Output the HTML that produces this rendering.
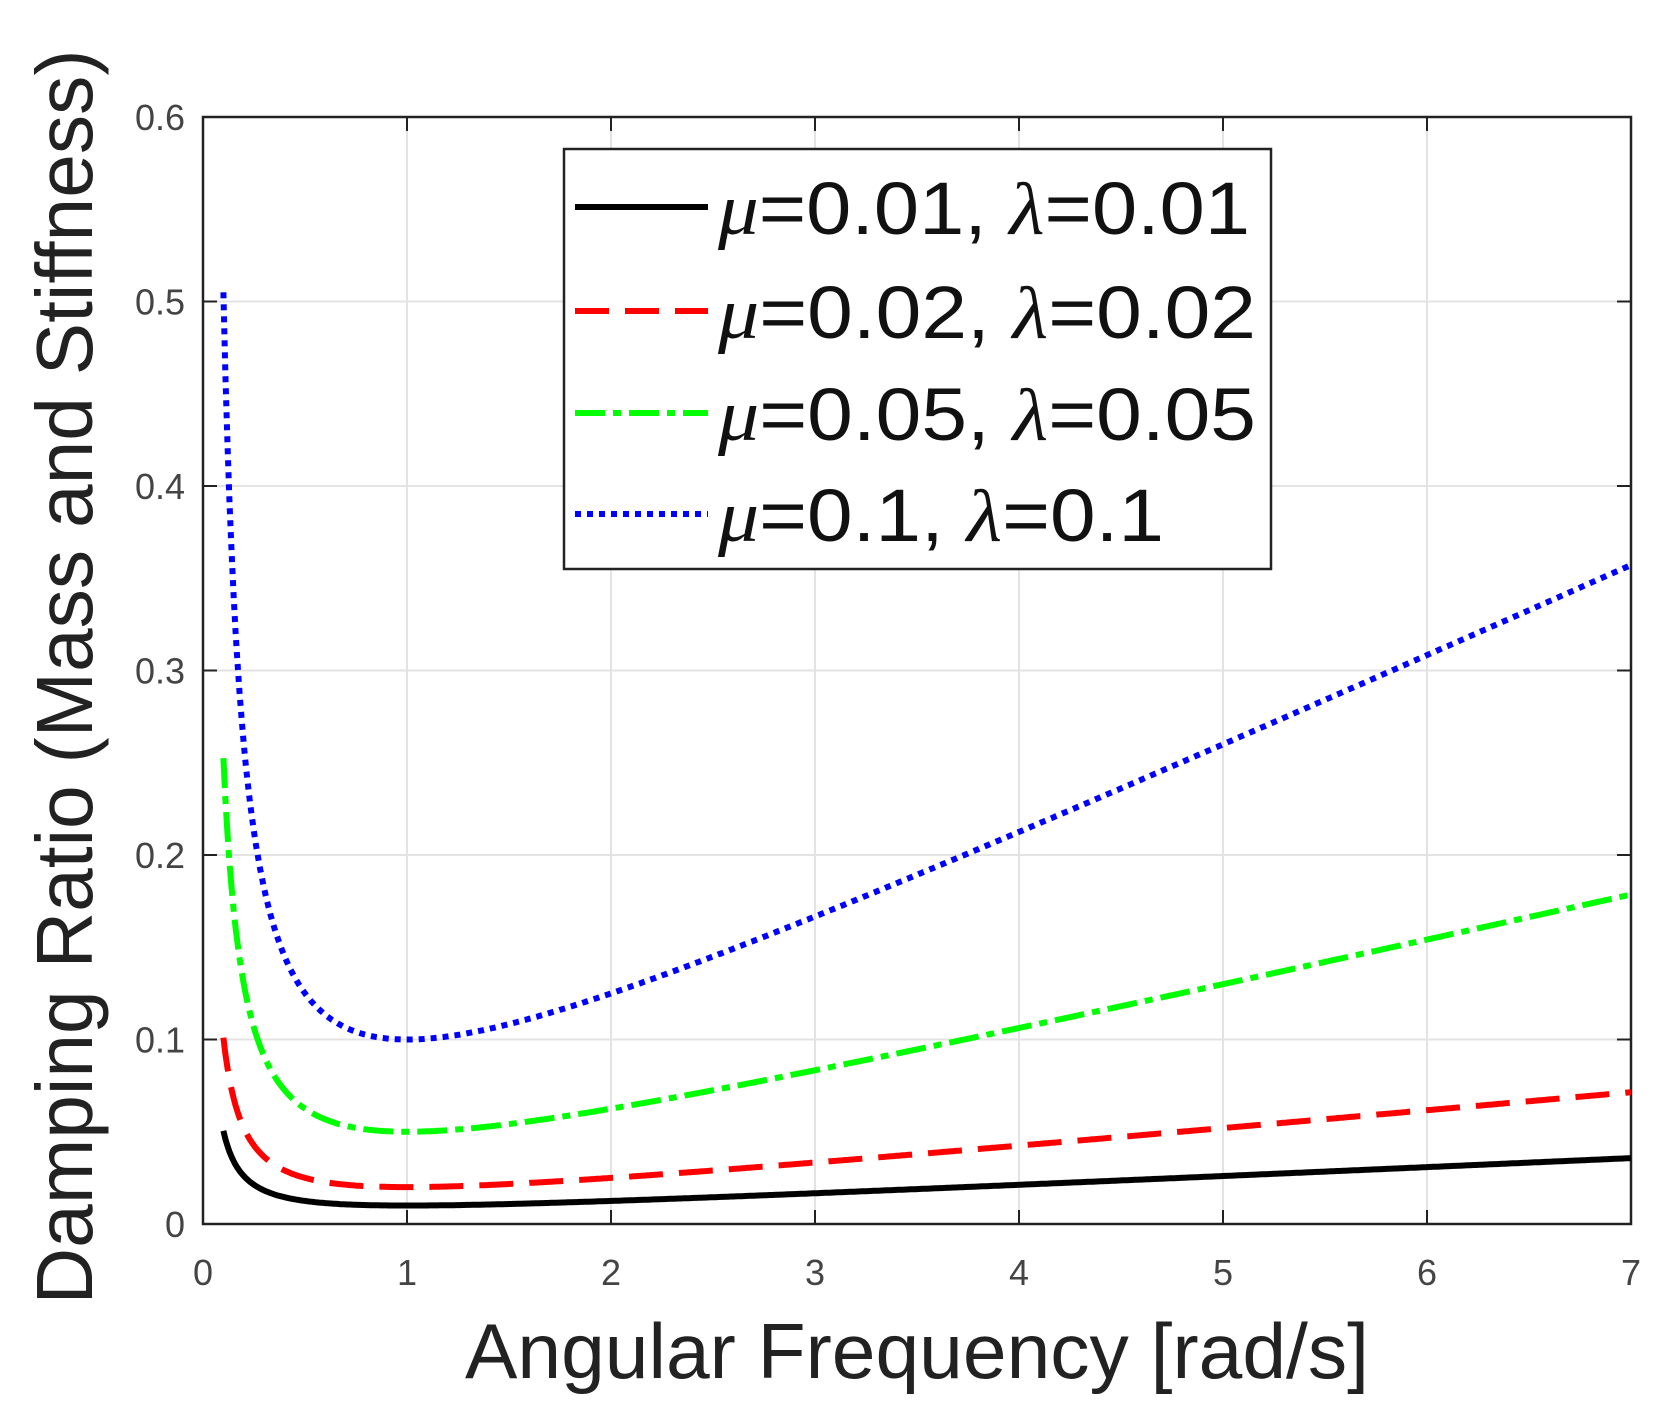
<!DOCTYPE html>
<html><head><meta charset="utf-8"><style>
html,body{margin:0;padding:0;background:#fff;}
svg{display:block;font-family:"Liberation Sans",sans-serif;}
</style></head><body>
<svg id="s" width="1660" height="1415" viewBox="0 0 1660 1415" xmlns="http://www.w3.org/2000/svg">
<rect width="1660" height="1415" fill="#fff"/>
<g id="grid" stroke="#e3e3e3" stroke-width="2"></g>
<rect x="203" y="117" width="1428" height="1107" fill="none" stroke="#222" stroke-width="2.5"/>
<g id="ticks" stroke="#222" stroke-width="2"></g>
<g id="labels" fill="#444" font-size="36"></g>
<g id="curves" fill="none"></g>
<rect x="564" y="149" width="707" height="420" fill="#fff" stroke="#222" stroke-width="2.5"/>
<line x1="575" y1="207" x2="708" y2="207" stroke="#000" stroke-width="6"/>
<line x1="575" y1="311" x2="708" y2="311" stroke="#f00" stroke-width="6" stroke-dasharray="34,16"/>
<line x1="575" y1="413" x2="708" y2="413" stroke="#0f0" stroke-width="6" stroke-dasharray="30,8,8,8"/>
<line x1="575" y1="514" x2="708" y2="514" stroke="#00f" stroke-width="6" stroke-dasharray="6,6"/>
<g font-size="74" fill="#111">
<text x="718" y="234" textLength="532" lengthAdjust="spacingAndGlyphs"><tspan font-style="italic" font-family="Liberation Serif">μ</tspan>=0.01, <tspan font-family="Liberation Serif" font-style="italic">λ</tspan>=0.01</text>
<text x="718" y="338" textLength="538" lengthAdjust="spacingAndGlyphs"><tspan font-style="italic" font-family="Liberation Serif">μ</tspan>=0.02, <tspan font-family="Liberation Serif" font-style="italic">λ</tspan>=0.02</text>
<text x="718" y="440" textLength="538" lengthAdjust="spacingAndGlyphs"><tspan font-style="italic" font-family="Liberation Serif">μ</tspan>=0.05, <tspan font-family="Liberation Serif" font-style="italic">λ</tspan>=0.05</text>
<text x="718" y="541" textLength="446" lengthAdjust="spacingAndGlyphs"><tspan font-style="italic" font-family="Liberation Serif">μ</tspan>=0.1, <tspan font-family="Liberation Serif" font-style="italic">λ</tspan>=0.1</text>
</g>
<text x="917" y="1378" font-size="78" fill="#222" text-anchor="middle" textLength="904" lengthAdjust="spacingAndGlyphs">Angular Frequency [rad/s]</text>
<text transform="translate(92,677) rotate(-90)" font-size="80" fill="#222" text-anchor="middle" textLength="1255" lengthAdjust="spacingAndGlyphs">Damping Ratio (Mass and Stiffness)</text>
</svg>
<script>
var L=203,R=1631,T=117,B=1224,NS="http://www.w3.org/2000/svg";
function X(v){return L+(R-L)*v/7}function Y(v){return B-(B-T)*v/0.6}
function el(p,t,a,txt){var e=document.createElementNS(NS,t);for(var k in a)e.setAttribute(k,a[k]);if(txt!=null)e.textContent=txt;document.getElementById(p).appendChild(e);}
for(var i=1;i<7;i++){el('grid','line',{x1:X(i),x2:X(i),y1:T,y2:B});}
for(var j=1;j<6;j++){el('grid','line',{x1:L,x2:R,y1:Y(j/10),y2:Y(j/10)});}
for(var i=0;i<=7;i++){el('ticks','line',{x1:X(i),x2:X(i),y1:B,y2:B-14});el('ticks','line',{x1:X(i),x2:X(i),y1:T,y2:T+14});
el('labels','text',{x:X(i),y:1285,'text-anchor':'middle'},String(i));}
for(var j=0;j<=6;j++){el('ticks','line',{x1:L,x2:L+14,y1:Y(j/10),y2:Y(j/10)});el('ticks','line',{x1:R,x2:R-14,y1:Y(j/10),y2:Y(j/10)});
el('labels','text',{x:185,y:Y(j/10)+13,'text-anchor':'end'},j==0?'0':(j/10).toFixed(1));}
var S=[[0.01,'#000','none'],[0.02,'#f00','34,16'],[0.05,'#0f0','30,8,8,8'],[0.1,'#00f','6,6']];
S.forEach(function(s){var d='';for(var w=0.1;w<=7.0001;w+=0.01){var z=s[0]/2*(1/w+w);d+=(d?'L':'M')+X(w).toFixed(1)+','+Y(z).toFixed(1);}
el('curves','path',{d:d,stroke:s[1],'stroke-width':6,'stroke-dasharray':s[2]});});
</script>
</body></html>
